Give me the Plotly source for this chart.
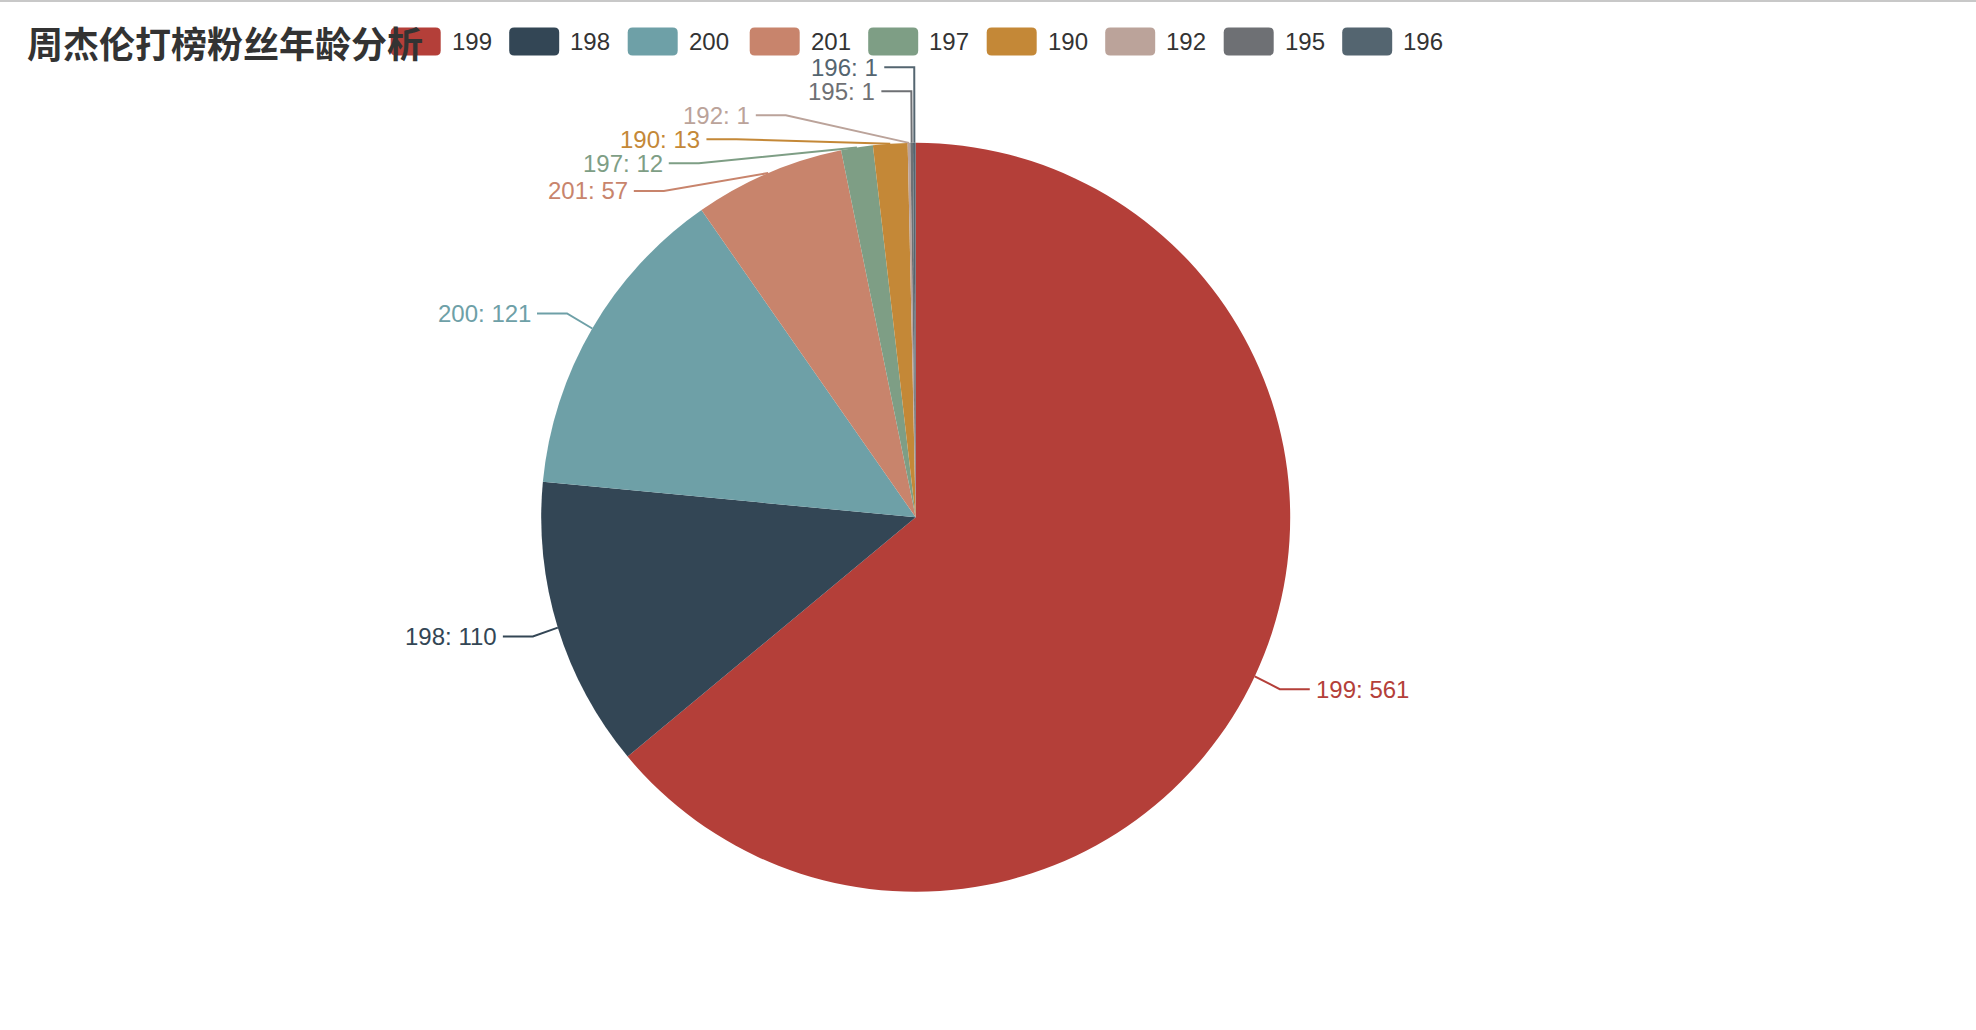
import math
import plotly.graph_objects as go

# ---------------- data ----------------
title_text = "周杰伦打榜粉丝年龄分析"
ages = ["199", "198", "200", "201", "197", "190", "192", "195", "196"]
counts = [561, 110, 121, 57, 12, 13, 1, 1, 1]
colors = ["#b43f39", "#334655", "#6ea0a7", "#c8846c", "#7e9e85",
          "#c48837", "#bba39a", "#6e7074", "#546570"]

# ---------------- geometry (pixels) ----------------
W, H = 1976, 1030
CX, CY, R = 915.7, 517.3, 374.5          # pie centre / radius
LEN1, LEN2, GAP = 30, 30, 5               # label line segments, text gap
TEXT_H = 24                               # label box height used for overlap avoidance
VIEW_TOP, VIEW_H = 16, 1000
LABEL_FONT = dict(family="Liberation Sans, Arial, sans-serif", size=24)

total = sum(counts)

# ---- ECharts-like outside label layout ----
layouts = []
cum = 0
for i, (a, v) in enumerate(zip(ages, counts)):
    mid = (cum + v / 2) / total * 2 * math.pi
    cum += v
    dx, dy = math.sin(mid), -math.cos(mid)
    x1, y1 = CX + R * dx, CY + R * dy
    x2, y2 = x1 + dx * LEN1, y1 + dy * LEN1
    side = -1 if dx < 0 else 1
    x3 = x2 + side * LEN2
    layouts.append(dict(i=i, x=x3 + side * GAP, y=y2, x1=x1, y1=y1,
                        side=side, height=TEXT_H))


def adjust_side(lst, side):
    lst.sort(key=lambda d: d["y"])
    n = len(lst)

    def shift_up(end, delta):
        for j in range(end, -1, -1):
            if lst[j]["y"] - delta < VIEW_TOP:
                break
            lst[j]["y"] -= delta
            if j > 0 and lst[j]["y"] > lst[j - 1]["y"] + lst[j - 1]["height"]:
                break

    def shift_down(start, end, delta):
        for j in range(start, end):
            if lst[j]["y"] + delta > VIEW_TOP + VIEW_H:
                break
            lst[j]["y"] += delta
            if j > start and j + 1 < end and lst[j + 1]["y"] > lst[j]["y"] + lst[j]["height"]:
                shift_up(j, delta / 2)
                return
        shift_up(end - 1, delta / 2)

    last_y = 0
    for k in range(n):
        delta = lst[k]["y"] - last_y
        if delta < 0:
            shift_down(k, n, -delta)
        last_y = lst[k]["y"] + lst[k]["height"]
    if VIEW_TOP + VIEW_H - last_y < 0:
        shift_up(n - 1, last_y - VIEW_TOP - VIEW_H)

    def change_x(sub, is_down):
        last = float("inf") if is_down else 0
        for d in sub:
            dyy = abs(d["y"] - CY)
            if dyy < R + LEN1:
                ddx = math.sqrt((R + LEN1 + LEN2) ** 2 - dyy ** 2)
            else:
                ddx = abs(d["x"] - CX)
            if is_down and ddx >= last:
                ddx = last - 10
            if (not is_down) and ddx <= last:
                ddx = last + 10
            d["x"] = CX + ddx * side
            last = ddx

    change_x([d for d in lst if d["y"] < CY], False)
    change_x([d for d in lst if d["y"] >= CY], True)


adjust_side([d for d in layouts if d["side"] < 0], -1)
adjust_side([d for d in layouts if d["side"] > 0], 1)

# ---------------- figure ----------------
fig = go.Figure()

fig.add_trace(go.Pie(
    labels=ages, values=counts,
    marker=dict(colors=colors, line=dict(width=0)),
    sort=False, direction="clockwise", rotation=0,
    textinfo="none", showlegend=False,
    hovertemplate="%{label}: %{value} (%{percent})<extra></extra>",
    domain=dict(x=[(CX - R) / W, (CX + R) / W],
                y=[1 - (CY + R) / H, 1 - (CY - R) / H]),
))

annotations = []
for d in layouts:
    i, side = d["i"], d["side"]
    end_x = d["x"] - side * GAP
    bend_x = end_x - side * LEN2
    fig.add_trace(go.Scatter(
        x=[d["x1"], bend_x, end_x], y=[d["y1"], d["y"], d["y"]],
        mode="lines", line=dict(color=colors[i], width=2),
        hoverinfo="skip", showlegend=False))
    annotations.append(dict(
        x=d["x"], y=d["y"], xref="x", yref="y",
        text=f"{ages[i]}: {counts[i]}", showarrow=False,
        xanchor="right" if side < 0 else "left", yanchor="middle",
        font=dict(color=colors[i], **LABEL_FONT), borderpad=0))

# ---- custom legend (rounded rects + text), centred on the chart ----
def text_w(s):
    return sum(10.5 if ch == "1" else 14 for ch in s)

ITEM_W, ITEM_H, ITEM_GAP, TXT_GAP = 50, 28, 20, 10
LEG_CY = 41.5
widths = [ITEM_W + TXT_GAP + text_w(a) for a in ages]
lx = CX - (sum(widths) + ITEM_GAP * (len(ages) - 1)) / 2
shapes = []
rr = 5
for a, c, w in zip(ages, colors, widths):
    x0, x1_, y0, y1_ = lx, lx + ITEM_W, LEG_CY - ITEM_H / 2, LEG_CY + ITEM_H / 2
    path = (f"M {x0+rr},{y0} L {x1_-rr},{y0} Q {x1_},{y0} {x1_},{y0+rr} "
            f"L {x1_},{y1_-rr} Q {x1_},{y1_} {x1_-rr},{y1_} "
            f"L {x0+rr},{y1_} Q {x0},{y1_} {x0},{y1_-rr} "
            f"L {x0},{y0+rr} Q {x0},{y0} {x0+rr},{y0} Z")
    shapes.append(dict(type="path", path=path, xref="x", yref="y",
                       fillcolor=c, line=dict(width=0)))
    annotations.append(dict(
        x=lx + ITEM_W + TXT_GAP, y=LEG_CY, xref="x", yref="y", text=a,
        showarrow=False, xanchor="left", yanchor="middle", borderpad=0,
        font=dict(color="#333333", **LABEL_FONT)))
    lx += w + ITEM_GAP

# top page border line
shapes.append(dict(type="line", xref="x", yref="y", x0=0, x1=W, y0=1, y1=1,
                   line=dict(color="#c8c8c8", width=2)))

# title
annotations.append(dict(
    x=26, y=42, xref="x", yref="y", text=title_text, showarrow=False,
    xanchor="left", yanchor="middle", borderpad=0,
    font=dict(family="Noto Sans CJK SC", size=36, color="#333333", weight="bold")))

fig.update_layout(
    width=W, height=H, autosize=False,
    margin=dict(l=0, r=0, t=0, b=0, pad=0),
    paper_bgcolor="white", plot_bgcolor="rgba(0,0,0,0)",
    xaxis=dict(range=[0, W], visible=False, domain=[0, 1], fixedrange=True),
    yaxis=dict(range=[H, 0], visible=False, domain=[0, 1], fixedrange=True),
    shapes=shapes, annotations=annotations,
    showlegend=False,
)

fig.write_html("out.html")
